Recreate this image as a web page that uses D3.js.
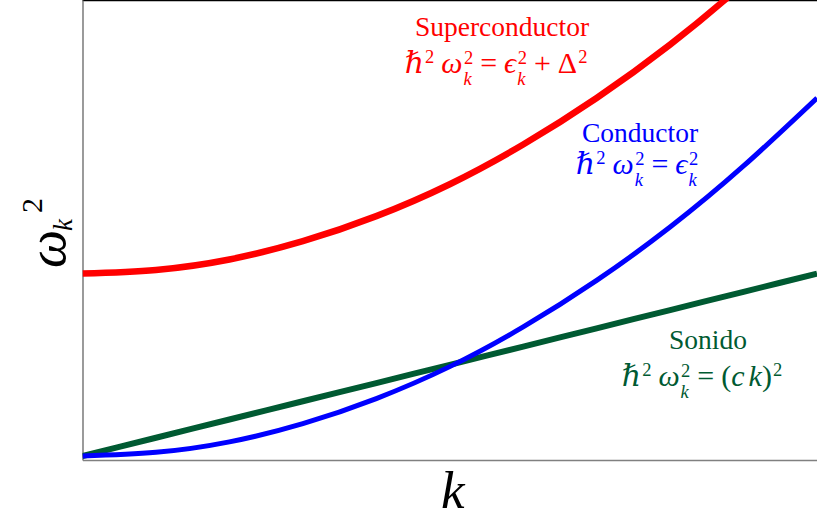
<!DOCTYPE html>
<html>
<head>
<meta charset="utf-8">
<script src="https://cdn.jsdelivr.net/npm/d3@7"></script>
<style>
  html, body { margin: 0; padding: 0; background: #fff; }
  svg { display: block; }
  text { font-family: "Liberation Serif", "Times New Roman", "DejaVu Serif", serif; }
</style>
</head>
<body>
<svg id="chart" width="817" height="518"></svg>
<script>
// Wavenumber samples and the squared frequency of each branch (arbitrary units)
const kValues        = [0, 0.1, 0.2, 0.3, 0.4, 0.5, 0.6, 0.7, 0.8, 0.9, 1.0];
const superconductor = [0.400, 0.408, 0.431, 0.471, 0.526, 0.596, 0.683, 0.785, 0.902, 1.036, 1.185];
const conductor      = [0.000, 0.008, 0.031, 0.071, 0.126, 0.196, 0.283, 0.385, 0.502, 0.636, 0.785];
const sound          = [0.000, 0.040, 0.080, 0.120, 0.160, 0.200, 0.240, 0.280, 0.320, 0.360, 0.400];

const seriesNames  = ["Superconductor", "Conductor", "Sonido"];
const seriesColors = ["#ff0000", "#0000ff", "#005a32"];

const svg = d3.select("#chart");
const plotLeft = 82.5, plotTop = 0, plotRight = 817, plotBottom = 460;

const x = d3.scaleLinear().domain([0, 1]).range([plotLeft, plotRight]);
const y = d3.scaleLinear().domain([0, 1]).range([456, plotTop]);

// frame: top edge plus left and bottom axes without ticks
svg.append("line")
  .attr("x1", plotLeft).attr("x2", plotRight).attr("y1", 0.6).attr("y2", 0.6)
  .attr("stroke", "#000").attr("stroke-width", 1.3);

const yAxisScale = d3.scaleLinear().domain([0, 1]).range([plotBottom, plotTop]);
svg.append("g")
  .attr("transform", `translate(${plotLeft},0)`)
  .call(d3.axisLeft(yAxisScale).tickValues([]).tickSizeOuter(0))
  .call(g => g.select(".domain").attr("stroke", "#707070").attr("stroke-width", 1.4));

svg.append("g")
  .attr("transform", `translate(0,${plotBottom})`)
  .call(d3.axisBottom(x).tickValues([]).tickSizeOuter(0))
  .call(g => g.select(".domain").attr("stroke", "#808080").attr("stroke-width", 1.6));

svg.append("clipPath").attr("id", "plotClip")
  .append("rect").attr("x", plotLeft).attr("y", 0)
  .attr("width", plotRight - plotLeft).attr("height", plotBottom);

const line = d3.line()
  .x((d, i) => x(kValues[i]))
  .y(d => y(d))
  .curve(d3.curveNatural);

const curves = [
  { values: sound, color: seriesColors[2], width: 6 },
  { values: conductor, color: seriesColors[1], width: 5 },
  { values: superconductor, color: seriesColors[0], width: 6.5 }
];
const plot = svg.append("g").attr("clip-path", "url(#plotClip)");
plot.selectAll("path.curve").data(curves).join("path")
  .attr("class", "curve")
  .attr("d", d => line(d.values))
  .attr("fill", "none")
  .attr("stroke", d => d.color)
  .attr("stroke-width", d => d.width)
  .attr("stroke-linejoin", "round");

// ---- formula typesetting helper ----
const MATH = 30, SCRIPT = 18.5;
function measure(str, size, italic) {
  const t = svg.append("text").attr("font-size", size)
    .attr("font-style", italic ? "italic" : "normal").text(str);
  const w = t.node().getComputedTextLength();
  t.remove();
  return w;
}
function formula(cx, baseline, pieces, color) {
  const g = svg.append("g").attr("fill", color);
  let cursor = 0;
  const items = [];
  pieces.forEach(p => {
    if (p.gap !== undefined) { cursor += p.gap; return; }
    if (p.s !== undefined) {
      items.push({ s: p.s, x: cursor, y: 0, size: MATH, it: !!p.it });
      cursor += measure(p.s, MATH, p.it);
    } else if (p.stack) {
      const [sub, sup] = p.stack;
      const w1 = measure(sub, SCRIPT, true), w2 = measure(sup, SCRIPT, false);
      items.push({ s: sub, x: cursor + 1, y: 11.5, size: SCRIPT, it: true });
      items.push({ s: sup, x: cursor + 1.5, y: -9, size: SCRIPT, it: false });
      cursor += Math.max(w1, w2) + 1.5;
    } else if (p.sup !== undefined) {
      items.push({ s: p.sup, x: cursor + 1, y: -10, size: SCRIPT, it: false });
      cursor += measure(p.sup, SCRIPT, false) + 1;
    }
  });
  const x0 = cx - cursor / 2;
  g.selectAll("text").data(items).join("text")
    .attr("x", d => x0 + d.x).attr("y", d => baseline + d.y)
    .attr("font-size", d => d.size)
    .attr("font-style", d => d.it ? "italic" : "normal")
    .text(d => d.s);
}
function title(cx, baseline, str, color) {
  svg.append("text").attr("x", cx).attr("y", baseline)
    .attr("text-anchor", "middle").attr("font-size", 27.5)
    .attr("fill", color).text(str);
}

const lhs = [{ s: "ℏ", it: true }, { sup: "2" }, { gap: 7 }, { s: "ω", it: true }, { stack: ["k", "2"] }];

title(502, 36, seriesNames[0], seriesColors[0]);
formula(496, 73, lhs.concat([{ gap: 7 }, { s: "=" }, { gap: 7 }, { s: "ϵ", it: true }, { stack: ["k", "2"] },
  { gap: 7 }, { s: "+" }, { gap: 7 }, { s: "Δ" }, { sup: "2" }]), seriesColors[0]);

title(640, 142, seriesNames[1], seriesColors[1]);
formula(637, 174, lhs.concat([{ gap: 7 }, { s: "=" }, { gap: 7 }, { s: "ϵ", it: true }, { stack: ["k", "2"] }]), seriesColors[1]);

title(708, 349, seriesNames[2], seriesColors[2]);
formula(702, 386, lhs.concat([{ gap: 7 }, { s: "=" }, { gap: 7 }, { s: "(" }, { s: "c", it: true }, { gap: 4 },
  { s: "k", it: true }, { s: ")" }, { sup: "2" }]), seriesColors[2]);

// axis labels
svg.append("text").attr("x", 441).attr("y", 508)
  .attr("font-size", 53).attr("font-style", "italic").text("k");

const yl = svg.append("g").attr("transform", "translate(65,268) rotate(-90)");
yl.append("text").attr("x", 0).attr("y", 0).attr("font-size", 54).attr("font-style", "italic").text("ω");
yl.append("text").attr("x", 37).attr("y", 7).attr("font-size", 27).attr("font-style", "italic").text("k");
yl.append("text").attr("x", 55).attr("y", -23).attr("font-size", 30).text("2");
</script>
</body>
</html>
